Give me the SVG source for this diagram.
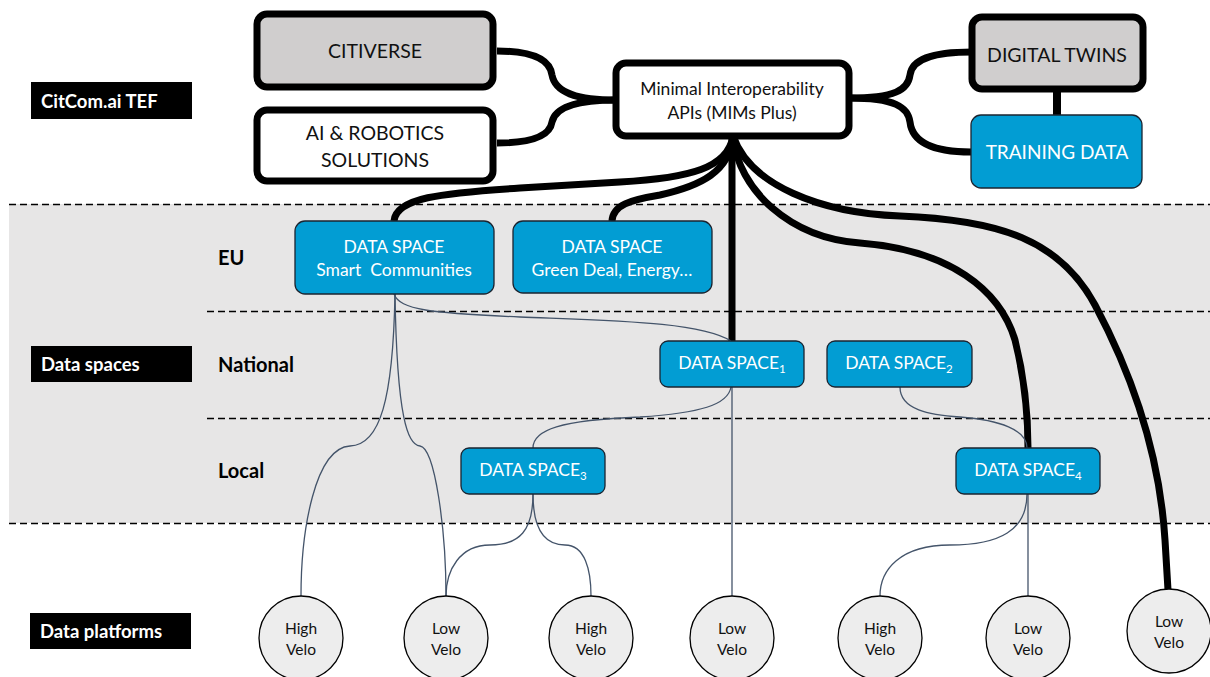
<svg xmlns="http://www.w3.org/2000/svg" width="1210" height="677" viewBox="0 0 1210 677">
<style>
text{font-family:Lato,"Open Sans","Liberation Sans",sans-serif;}
.tef{stroke:#000;stroke-width:7;}
.tt{font-size:19.5px;fill:#111;text-anchor:middle;}
.blue{fill:#029DD3;stroke:#1b2430;stroke-width:1.3;}
.bt{font-size:17.5px;fill:#fff;text-anchor:middle;white-space:pre;}
.lbl{fill:#000;}
.lt{font-size:18.5px;font-weight:bold;fill:#fff;}
.lvl{font-size:20px;font-weight:bold;fill:#000;}
.dash{stroke:#000;stroke-width:1.3;stroke-dasharray:7 4;fill:none;}
.thick{stroke:#000;stroke-width:7;fill:none;}
.thin{stroke:#44546A;stroke-width:1.3;fill:none;}
.plat{fill:#EDEDED;stroke:#000;stroke-width:1.3;}
.pt{font-size:15.5px;fill:#111;text-anchor:middle;}
</style>
<rect x="0" y="0" width="1210" height="677" fill="#fff"/>
<g id="band">
<rect x="9" y="204" width="1201" height="319" fill="#E7E6E6"/>
<line class="dash" x1="9" y1="204.5" x2="1210" y2="204.5"/>
<line class="dash" x1="207" y1="311.5" x2="1210" y2="311.5"/>
<line class="dash" x1="207" y1="418.5" x2="1210" y2="418.5"/>
<line class="dash" x1="9" y1="523.5" x2="1210" y2="523.5"/>
</g>
<g id="labels">
<g id="lbl-tef"><rect class="lbl" x="31" y="82" width="161" height="37"/><text class="lt" x="41" y="108">CitCom.ai TEF</text></g>
<g id="lbl-ds"><rect class="lbl" x="31" y="346" width="161" height="36"/><text class="lt" x="41" y="371">Data spaces</text></g>
<g id="lbl-dp"><rect class="lbl" x="30" y="613" width="161" height="36"/><text class="lt" x="40" y="638">Data platforms</text></g>
<text class="lvl" x="218" y="265">EU</text>
<text class="lvl" x="218" y="372">National</text>
<text class="lvl" x="218" y="478">Local</text>
</g>
<g id="connectors">
<path class="thick" d="M497,51 C535,51 550,60 552,75 C555,92 575,100 616,100"/>
<path class="thick" d="M497,143 C535,143 550,135 552,122 C555,108 575,100 616,100"/>
<path class="thick" d="M849,98 C895,98 908,90 910,75 C912,60 930,52 972,52"/>
<path class="thick" d="M849,98 C895,98 908,107 910,122 C912,140 930,152 971,152"/>
<line class="thick" x1="1057" y1="89" x2="1057" y2="115" style="stroke-width:8"/>
<path class="thick" d="M733,136 C728,168 690,178 620,182 L520,188 C440,193 396,198 394,221"/>
<path class="thick" d="M733,136 C730,172 700,186 660,195 C630,200 613,205 612,221"/>
<line class="thick" x1="732" y1="136" x2="732" y2="341"/>
<path class="thick" d="M733,136 C738,190 790,238 860,243 C950,250 1000,290 1015,340 C1025,380 1028,420 1028,448"/>
<path class="thick" d="M733,136 C750,185 820,213 900,216 C1000,220 1060,240 1095,305 C1135,380 1160,460 1165,540 L1168,590"/>
<path class="thin" d="M394,294 C400,310 430,313 520,317 C620,321 700,322 731,341"/>
<path class="thin" d="M395,294 C393,400 380,445 350,446 C315,448 301,530 301,596"/>
<path class="thin" d="M395,294 C397,420 408,445 420,446 C435,448 446,530 446,596"/>
<path class="thin" d="M731,387 C728,405 700,413 640,417 C560,420 533,430 533,448"/>
<line class="thin" x1="732" y1="387" x2="732" y2="596"/>
<path class="thin" d="M900,387 C900,410 930,415 960,417 C1000,420 1027,430 1027,448"/>
<path class="thin" d="M533,494 C533,530 520,545 490,545 C460,545 446,570 446,596"/>
<path class="thin" d="M533,494 C533,530 545,545 565,545 C585,545 591,570 591,596"/>
<path class="thin" d="M1027,494 C1027,530 1000,545 950,545 C900,545 880,570 880,596"/>
<line class="thin" x1="1028" y1="494" x2="1028" y2="596"/>
</g>
<g id="citiverse"><rect class="tef" x="257" y="14" width="236" height="73" rx="10" fill="#D0CECE"/><text class="tt" x="375" y="58">CITIVERSE</text></g>
<g id="ai-robotics"><rect class="tef" x="257" y="110" width="236" height="71" rx="10" fill="#fff"/><text class="tt" x="375" y="140">AI &amp; ROBOTICS</text><text class="tt" x="375" y="167">SOLUTIONS</text></g>
<g id="mim"><rect class="tef" x="616" y="63" width="233" height="73" rx="10" fill="#fff"/><text class="tt" x="732" y="95" style="font-size:17.5px">Minimal Interoperability</text><text class="tt" x="732" y="119" style="font-size:17.5px">APIs (MIMs Plus)</text></g>
<g id="digital-twins"><rect class="tef" x="972" y="17" width="171" height="72" rx="10" fill="#D0CECE"/><text class="tt" x="1057" y="62">DIGITAL TWINS</text></g>
<g id="training-data"><rect class="blue" x="971" y="115" width="171" height="73" rx="10"/><text class="bt" x="1057" y="159" style="font-size:19px">TRAINING DATA</text></g>
<g id="ds-smart"><rect class="blue" x="295" y="221" width="199" height="73" rx="10"/><text class="bt" x="394" y="253">DATA SPACE</text><text class="bt" x="394" y="276">Smart  Communities</text></g>
<g id="ds-green"><rect class="blue" x="513" y="221" width="199" height="72" rx="10"/><text class="bt" x="612" y="253">DATA SPACE</text><text class="bt" x="612" y="276">Green Deal, Energy…</text></g>
<g id="ds1"><rect class="blue" x="660" y="341" width="144" height="46" rx="8"/><text class="bt" x="732" y="369">DATA SPACE<tspan dy="4" font-size="11.5">1</tspan></text></g>
<g id="ds2"><rect class="blue" x="827" y="341" width="145" height="46" rx="8"/><text class="bt" x="899" y="369">DATA SPACE<tspan dy="4" font-size="11.5">2</tspan></text></g>
<g id="ds3"><rect class="blue" x="461" y="448" width="144" height="46" rx="8"/><text class="bt" x="533" y="476">DATA SPACE<tspan dy="4" font-size="11.5">3</tspan></text></g>
<g id="ds4"><rect class="blue" x="956" y="448" width="144" height="46" rx="8"/><text class="bt" x="1028" y="476">DATA SPACE<tspan dy="4" font-size="11.5">4</tspan></text></g>
<g id="p1"><circle class="plat" cx="301" cy="638" r="42"/><text class="pt" x="301" y="634">High</text><text class="pt" x="301" y="655">Velo</text></g>
<g id="p2"><circle class="plat" cx="446" cy="638" r="42"/><text class="pt" x="446" y="634">Low</text><text class="pt" x="446" y="655">Velo</text></g>
<g id="p3"><circle class="plat" cx="591" cy="638" r="42"/><text class="pt" x="591" y="634">High</text><text class="pt" x="591" y="655">Velo</text></g>
<g id="p4"><circle class="plat" cx="732" cy="638" r="42"/><text class="pt" x="732" y="634">Low</text><text class="pt" x="732" y="655">Velo</text></g>
<g id="p5"><circle class="plat" cx="880" cy="638" r="42"/><text class="pt" x="880" y="634">High</text><text class="pt" x="880" y="655">Velo</text></g>
<g id="p6"><circle class="plat" cx="1028" cy="638" r="42"/><text class="pt" x="1028" y="634">Low</text><text class="pt" x="1028" y="655">Velo</text></g>
<g id="p7"><circle class="plat" cx="1169" cy="631" r="42"/><text class="pt" x="1169" y="627">Low</text><text class="pt" x="1169" y="648">Velo</text></g>
</svg>
